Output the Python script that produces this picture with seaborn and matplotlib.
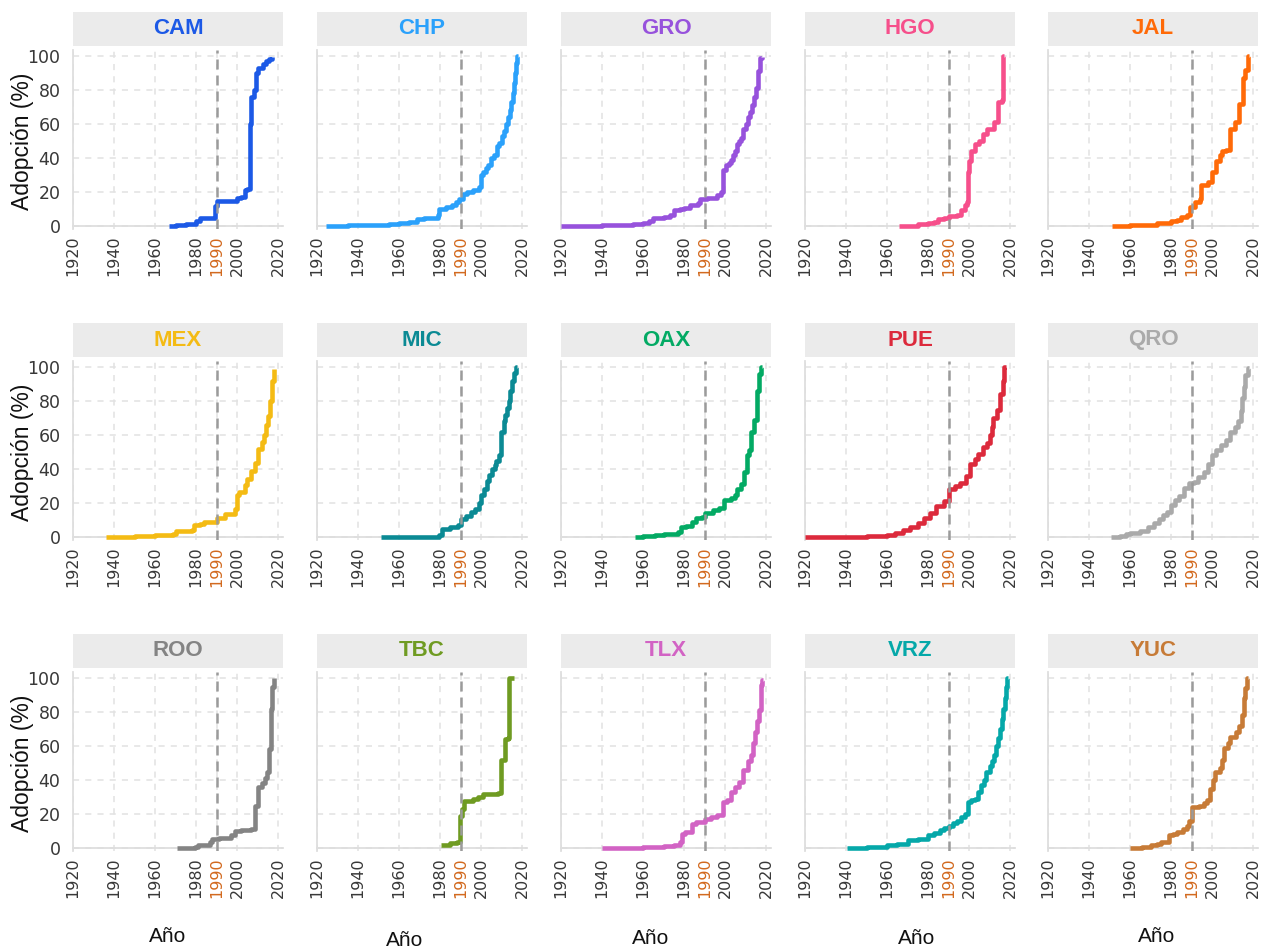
import matplotlib
matplotlib.use("Agg")
import matplotlib.pyplot as plt
from matplotlib.patches import Rectangle
import seaborn as sns
import pandas as pd

# ---------------- data (year, adoption %) ----------------
states = ["CAM", "CHP", "GRO", "HGO", "JAL",
          "MEX", "MIC", "OAX", "PUE", "QRO",
          "ROO", "TBC", "TLX", "VRZ", "YUC"]

colors = ["#1c59e6", "#2ba1fb", "#9752dc", "#f64f8b", "#ff6a08",
          "#f4bb14", "#0b8a94", "#03aa64", "#dc2a3c", "#aaaaaa",
          "#848484", "#6f9b22", "#d263c4", "#05a8a9", "#c77b37"]

CAM = [(1967, 0), (1970, 0.5), (1975, 1), (1979, 1.4), (1980, 3), (1982, 4.5), (1985, 5),
       (1989, 5), (1989.5, 12), (1990, 14.5), (1998, 14.5), (2000, 16.5), (2002, 17), (2004, 21),
       (2005, 22), (2006.2, 40), (2006.5, 60), (2006.8, 76), (2008.5, 80), (2009.5, 90), (2010, 93),
       (2012.5, 95), (2014, 97), (2015.5, 98.5), (2017, 99.5)]
CHP = [(1924.5, 0), (1935, 0.3), (1950, 0.8), (1955, 1.2), (1960, 1.8), (1965, 2.5), (1969, 4),
       (1972, 4.5), (1975, 5), (1978.8, 6.3), (1979.6, 10), (1983, 11), (1986, 12.5), (1988, 14),
       (1989.5, 16), (1991, 19), (1993, 20), (1996, 21), (1999.2, 23), (2000, 30), (2001, 32),
       (2002.5, 34), (2003.5, 36), (2005, 40), (2006.5, 42), (2008, 47), (2009, 49), (2010, 53),
       (2011, 56), (2012, 60), (2013, 64), (2014, 68), (2014.8, 73), (2015.5, 78), (2016, 84),
       (2016.5, 90), (2017.2, 96), (2017.8, 100), (2018.2, 100)]
GRO = [(1920, 0), (1940, 0.3), (1950, 0.8), (1955, 1.2), (1960, 2), (1963, 3), (1965, 4.5),
       (1968, 5), (1970, 5.5), (1973, 6.5), (1975, 9.4), (1978, 10), (1980, 10.8), (1983, 12.4),
       (1987, 13.4), (1988, 16), (1991, 16.3), (1993, 16.7), (1996, 18.3), (1998, 20), (1999, 33),
       (2000.5, 36), (2002, 37), (2003, 39), (2004, 42), (2005, 44), (2006, 48), (2007, 50),
       (2008, 52), (2009, 57), (2010, 60), (2011, 64), (2012, 67), (2013, 71), (2014, 76),
       (2015, 81), (2016, 91), (2017, 99), (2018, 99.5)]
HGO = [(1966, 0), (1975, 1), (1980, 1.6), (1983, 2.6), (1985, 4), (1988, 5), (1990, 6),
       (1994, 6.5), (1996, 9.4), (1998, 12.4), (1999, 14.4), (1999.5, 32), (2000, 38),
       (2001, 44), (2003, 48), (2005, 50), (2007, 54), (2009, 57), (2012, 61), (2014, 73),
       (2016, 74), (2016.5, 100), (2017, 100)]
JAL = [(1951, 0), (1960, 0.8), (1973, 1.8), (1980, 2.8), (1983, 3.4), (1985, 5.3), (1988, 6.3),
       (1989.3, 11), (1991.5, 14), (1994, 16), (1994.7, 24), (1998, 26), (2000, 32), (2002, 38),
       (2003.7, 42), (2005, 44), (2007, 44.5), (2009, 57), (2011, 61), (2013, 72), (2015, 87),
       (2016.2, 92), (2017.5, 100), (2018, 100)]
MEX = [(1936, 0), (1950, 0.4), (1960, 1), (1969, 2), (1970, 3.3), (1978, 4.3), (1979, 7.3),
       (1982, 7.9), (1984, 8.9), (1990, 11.4), (1994, 13.8), (1999, 16.7), (2000, 24.6),
       (2001, 26.6), (2004, 30.5), (2005, 34.4), (2007, 39), (2009, 43.3), (2010, 52), (2012, 56),
       (2013, 60), (2014, 66), (2015, 71), (2016, 80), (2017, 92), (2018, 99)]
MIC = [(1951, 0), (1979.5, 1), (1981, 5), (1985, 6), (1989, 7), (1990, 10.8), (1992.6, 12.4),
       (1995, 14.8), (1997, 16.7), (1999.2, 20), (2000, 24.6), (2001.5, 28.5), (2003, 33),
       (2004, 36.4), (2005.5, 40), (2006.6, 42.3), (2007.5, 45), (2009, 48), (2009.8, 62),
       (2011, 68), (2011.5, 72), (2012.5, 76), (2013.5, 80), (2014, 86), (2015, 91.5),
       (2016, 96.5), (2017, 100), (2017.5, 100)]
OAX = [(1956, 0), (1960, 0.4), (1966, 1), (1970, 2), (1977, 3), (1978.5, 6), (1981, 6.5),
       (1984, 9), (1986, 11), (1989, 12), (1990, 14), (1994, 16), (1997, 17), (1999.5, 22),
       (2003, 23), (2005, 25), (2006, 28), (2008, 31), (2009.5, 38), (2010.5, 48), (2011.5, 51),
       (2012.5, 62), (2014, 69), (2015.5, 86), (2016.5, 96), (2017.5, 100), (2018, 100)]
PUE = [(1920, 0), (1950, 0.5), (1960, 1), (1964, 2.4), (1968, 4.4), (1971, 6), (1975, 8),
       (1978, 11), (1981, 14), (1984, 18), (1988, 21), (1990, 28), (1993, 30), (1995.5, 32),
       (1998.4, 36), (2000.4, 43), (2002.8, 46), (2004.5, 49), (2007, 53), (2008.6, 55.5),
       (2010, 60), (2011, 65), (2011.8, 70), (2013.5, 75), (2015, 84), (2016.5, 92),
       (2017.3, 100), (2018, 100)]
QRO = [(1950.5, 0), (1955, 0.5), (1958, 1.5), (1960, 2.4), (1965, 3.4), (1969, 6), (1971.5, 8),
       (1974, 10.5), (1976, 13), (1978, 15), (1980, 19), (1982, 22), (1984, 24), (1986.5, 28.6),
       (1989, 31.5), (1991, 32.5), (1993, 35.5), (1996, 38.5), (1998, 43), (2000, 48),
       (2002, 51), (2004.5, 54), (2007, 57), (2009, 62), (2011, 65), (2012.5, 68), (2014, 74),
       (2014.6, 82), (2015.5, 88), (2016, 95.5), (2017.5, 99.5), (2018, 99.5)]
ROO = [(1970.5, 0), (1979.5, 0.6), (1981, 1.6), (1985, 2), (1987, 3.5), (1988, 5.5), (1991, 6),
       (1997, 7.5), (1999, 10), (2002, 10.4), (2007, 11.4), (2008.9, 25), (2010, 36), (2012, 38),
       (2013.8, 41), (2014.6, 45), (2015.4, 58), (2016.5, 82), (2017.3, 95), (2017.9, 100),
       (2018.2, 100)]
TBC = [(1980.3, 2), (1985, 3), (1988.5, 3.4), (1989.8, 19), (1990.5, 23), (1991.8, 27.6),
       (1996, 28.6), (1998.4, 30), (2000.8, 32), (2008.2, 32.5), (2009.8, 52), (2011.8, 64),
       (2013.1, 64.5), (2013.9, 100), (2016, 100)]
TLX = [(1940, 0), (1960, 0.5), (1970, 1.2), (1975, 2), (1978, 3.5), (1979, 8), (1980.5, 9.4),
       (1984, 14), (1986, 15.5), (1990, 17), (1993, 18), (1996, 19.5), (1999, 27), (2001, 28),
       (2003, 33), (2005, 36), (2007, 39), (2009, 46), (2011, 51), (2012.5, 55), (2013.5, 62),
       (2014.5, 68.5), (2015.5, 75), (2016.5, 81), (2017.5, 96), (2018, 99), (2018.3, 99)]
VRZ = [(1940.5, 0), (1950, 0.3), (1955, 0.8), (1960, 1.5), (1965, 2.5), (1970, 4.5), (1975, 5.5),
       (1980, 7.5), (1983, 9), (1986, 10.4), (1988, 11.5), (1990, 13), (1992, 14.5), (1994, 16),
       (1996, 18), (1998, 20), (1999.5, 27), (2001, 28), (2003, 29), (2004.5, 33), (2006, 37),
       (2007.5, 40), (2008.5, 45), (2010, 48), (2011, 51), (2012, 55), (2013, 60), (2014, 65),
       (2015, 70), (2016, 76), (2016.8, 82), (2017.5, 88), (2018.2, 95), (2018.7, 100),
       (2019, 100)]
YUC = [(1960, 0), (1966, 0.8), (1970, 1.6), (1973, 2.5), (1975, 3.5), (1979, 7.5), (1981, 8.5),
       (1983, 9.4), (1986, 11.4), (1988, 13), (1989, 16), (1990.3, 24), (1993.7, 25),
       (1996, 26.5), (1997.5, 28), (1999, 35), (2000.5, 40), (2001.5, 45), (2003.7, 47),
       (2005, 52), (2006, 58.6), (2008, 62), (2009, 65.5), (2011.5, 68.5), (2013, 72),
       (2014.5, 78), (2015.5, 88), (2016, 94), (2017, 100), (2017.5, 100)]

series = {"CAM": CAM, "CHP": CHP, "GRO": GRO, "HGO": HGO, "JAL": JAL,
          "MEX": MEX, "MIC": MIC, "OAX": OAX, "PUE": PUE, "QRO": QRO,
          "ROO": ROO, "TBC": TBC, "TLX": TLX, "VRZ": VRZ, "YUC": YUC}

x_ticks = [1920, 1940, 1960, 1980, 1990, 2000, 2020]
x_tick_labels = ["1920", "1940", "1960", "1980", "1990", "2000", "2020"]
y_ticks = [0, 20, 40, 60, 80, 100]
ref_year = 1990

rows = []
for st in states:
    for yr, v in series[st]:
        rows.append({"state": st, "year": yr, "value": v})
df = pd.DataFrame(rows)

# ---------------- layout ----------------
sns.set_theme(style="white")
plt.rcParams["font.family"] = ["DejaVu Sans"]

W, H = 1262, 950
fig = plt.figure(figsize=(W / 100, H / 100), dpi=100)

col_left = [73, 317, 561, 805, 1048]
row_y100 = [56, 367, 678]
px_year = 2.05
px_pct = 1.7
xlim = (1920, 2022.5)
ylim = (-2, 103.5)
ax_w = (xlim[1] - xlim[0]) * px_year
ax_h = (ylim[1] - ylim[0]) * px_pct

grid_col = "#e2e2e2"
spine_col = "#dedede"
text_col = "#383838"

for i, st in enumerate(states):
    r, c = divmod(i, 5)
    left = col_left[c]
    top = row_y100[r] - (ylim[1] - 100) * px_pct
    bottom = top + ax_h
    ax = fig.add_axes([left / W, 1 - bottom / H, ax_w / W, ax_h / H])
    for s in ["top", "right"]:
        ax.spines[s].set_visible(False)
    ax.spines["bottom"].set_position(("data", 0))
    ax.spines["left"].set_color(spine_col)
    ax.spines["left"].set_linewidth(1.3)
    ax.spines["bottom"].set_color(spine_col)
    ax.spines["bottom"].set_linewidth(1.3)

    sub = df[df["state"] == st]
    sns.lineplot(data=sub, x="year", y="value", ax=ax, color=colors[i],
                 drawstyle="steps-post", lw=3.3, legend=False, zorder=3,
                 solid_capstyle="butt")
    ax.axvline(ref_year, color="#9b9b9b", lw=1.8, ls=(0, (4, 2.4)), zorder=4)
    ax.set_xlim(*xlim)
    ax.set_ylim(*ylim)
    ax.set_xticks(x_ticks)
    ax.set_xticklabels(x_tick_labels)
    ax.set_yticks(y_ticks)
    ax.grid(True, color=grid_col, lw=1.1, ls=(0, (4, 4)), zorder=0)
    ax.set_axisbelow(True)
    ax.tick_params(axis="x", length=4, width=1.2, color=spine_col, pad=3,
                   labelsize=11.5, labelcolor=text_col, labelrotation=90)
    ax.tick_params(axis="y", length=0, pad=9, labelsize=12.5, labelcolor=text_col,
                   labelleft=(c == 0))
    for lbl in ax.get_xticklabels():
        if lbl.get_text() == str(ref_year):
            lbl.set_color("#d2691e")
    ax.set_xlabel("")
    ax.set_ylabel("")

    # strip
    s_top, s_bot = row_y100[r] - 44, row_y100[r] - 10
    fig.patches.append(Rectangle((left / W, 1 - s_bot / H), ax_w / W, (s_bot - s_top) / H,
                                 transform=fig.transFigure, facecolor="#ebebeb",
                                 edgecolor="none", zorder=0))
    fig.text((left + ax_w / 2) / W, 1 - ((s_top + s_bot) / 2) / H, st,
             ha="center", va="center", fontsize=16, fontweight="bold",
             color=colors[i], family=["Liberation Sans", "DejaVu Sans"])

for r in range(3):
    yc = row_y100[r] + 50 * px_pct
    fig.text(22 / W, 1 - yc / H, "Adopción (%)", rotation=90, ha="center", va="center",
             fontsize=16.5, color="#111111", family=["Liberation Sans", "DejaVu Sans"])

ano_pos = [(168, 937), (405, 940), (651, 938), (917, 938), (1157, 936)]
for xp, yp in ano_pos:
    fig.text(xp / W, 1 - yp / H, "Año", ha="center", va="center", fontsize=15,
             color="#111111", family=["Liberation Sans", "DejaVu Sans"])

fig.savefig("out.png", dpi=100)
